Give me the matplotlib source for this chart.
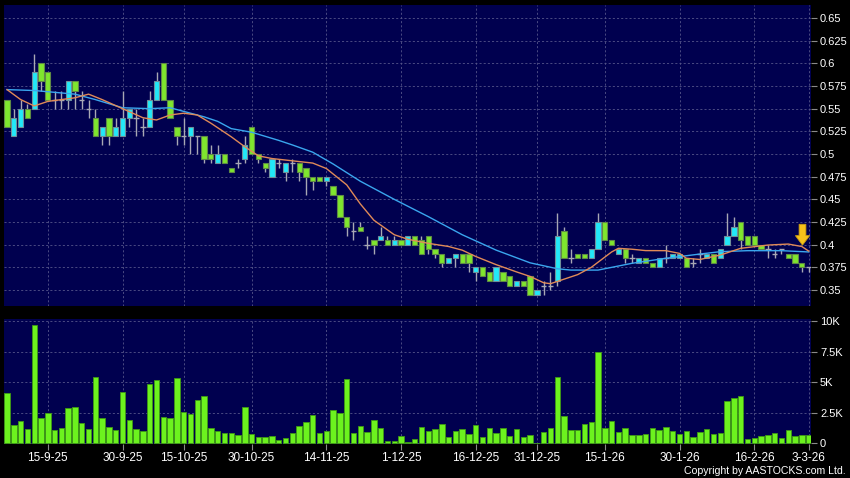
import matplotlib
matplotlib.use('Agg')
import matplotlib.pyplot as plt
import numpy as np

# ---------------- data ----------------
open_ = [0.56, 0.52, 0.53, 0.55, 0.55, 0.60, 0.59, 0.56, 0.56, 0.56,
         0.58, 0.56, 0.55, 0.54, 0.52, 0.54, 0.52, 0.52, 0.54, 0.54,
         0.53, 0.53, 0.56, 0.60, 0.56, 0.53, 0.52, 0.52, 0.52, 0.52,
         0.50, 0.49, 0.50, 0.485, 0.49, 0.495, 0.53, 0.50, 0.49, 0.475,
         0.49, 0.48, 0.49, 0.49, 0.485, 0.475, 0.475, 0.47, 0.465, 0.455,
         0.43, 0.415, 0.42, 0.40, 0.405, 0.405, 0.405, 0.40, 0.405, 0.40,
         0.41, 0.405, 0.41, 0.395, 0.39, 0.38, 0.385, 0.39, 0.39, 0.37,
         0.375, 0.37, 0.36, 0.37, 0.365, 0.355, 0.36, 0.365, 0.345, 0.355,
         0.355, 0.36, 0.415, 0.385, 0.39, 0.39, 0.385, 0.395, 0.425, 0.405,
         0.39, 0.395, 0.385, 0.38, 0.385, 0.38, 0.375, 0.385, 0.385, 0.385,
         0.385, 0.38, 0.39, 0.385, 0.39, 0.385, 0.40, 0.41, 0.425, 0.41,
         0.41, 0.40, 0.395, 0.39, 0.395, 0.39, 0.39, 0.38, 0.375]
high = [0.56, 0.55, 0.56, 0.555, 0.61, 0.60, 0.59, 0.57, 0.57, 0.58,
        0.58, 0.57, 0.56, 0.55, 0.53, 0.54, 0.54, 0.57, 0.55, 0.55,
        0.54, 0.57, 0.59, 0.60, 0.56, 0.53, 0.54, 0.53, 0.52, 0.52,
        0.51, 0.51, 0.50, 0.485, 0.495, 0.52, 0.53, 0.50, 0.49, 0.495,
        0.495, 0.49, 0.495, 0.49, 0.485, 0.475, 0.475, 0.475, 0.465, 0.455,
        0.43, 0.425, 0.425, 0.41, 0.405, 0.42, 0.41, 0.41, 0.405, 0.41,
        0.41, 0.41, 0.41, 0.395, 0.39, 0.385, 0.39, 0.39, 0.39, 0.375,
        0.375, 0.37, 0.375, 0.37, 0.365, 0.36, 0.36, 0.365, 0.35, 0.36,
        0.37, 0.435, 0.42, 0.395, 0.39, 0.39, 0.395, 0.435, 0.425, 0.405,
        0.395, 0.395, 0.39, 0.385, 0.385, 0.38, 0.385, 0.40, 0.39, 0.39,
        0.385, 0.385, 0.395, 0.39, 0.39, 0.395, 0.435, 0.43, 0.425, 0.41,
        0.41, 0.40, 0.40, 0.395, 0.395, 0.39, 0.39, 0.38, 0.375]
low = [0.53, 0.52, 0.53, 0.54, 0.55, 0.57, 0.56, 0.55, 0.55, 0.55,
       0.55, 0.55, 0.54, 0.52, 0.51, 0.51, 0.52, 0.52, 0.53, 0.52,
       0.52, 0.53, 0.56, 0.56, 0.54, 0.51, 0.51, 0.50, 0.50, 0.49,
       0.49, 0.49, 0.49, 0.48, 0.485, 0.49, 0.50, 0.49, 0.48, 0.475,
       0.485, 0.47, 0.48, 0.47, 0.455, 0.46, 0.47, 0.465, 0.455, 0.43,
       0.41, 0.405, 0.415, 0.395, 0.39, 0.405, 0.40, 0.40, 0.40, 0.40,
       0.40, 0.39, 0.39, 0.385, 0.375, 0.38, 0.375, 0.38, 0.37, 0.36,
       0.365, 0.36, 0.36, 0.36, 0.355, 0.355, 0.355, 0.345, 0.345, 0.345,
       0.35, 0.355, 0.385, 0.38, 0.385, 0.385, 0.385, 0.395, 0.405, 0.40,
       0.39, 0.38, 0.38, 0.38, 0.38, 0.375, 0.375, 0.38, 0.385, 0.385,
       0.375, 0.375, 0.38, 0.385, 0.38, 0.385, 0.40, 0.41, 0.395, 0.40,
       0.40, 0.395, 0.385, 0.385, 0.39, 0.385, 0.38, 0.37, 0.37]
close = [0.53, 0.54, 0.55, 0.54, 0.59, 0.58, 0.56, 0.56, 0.56, 0.58,
         0.57, 0.56, 0.55, 0.52, 0.53, 0.52, 0.53, 0.54, 0.55, 0.54,
         0.53, 0.56, 0.58, 0.56, 0.54, 0.52, 0.52, 0.53, 0.52, 0.495,
         0.495, 0.50, 0.49, 0.48, 0.49, 0.51, 0.50, 0.495, 0.485, 0.495,
         0.49, 0.49, 0.49, 0.48, 0.475, 0.47, 0.47, 0.475, 0.455, 0.43,
         0.42, 0.415, 0.415, 0.40, 0.40, 0.41, 0.40, 0.405, 0.40, 0.41,
         0.40, 0.39, 0.395, 0.39, 0.38, 0.385, 0.39, 0.38, 0.38, 0.375,
         0.365, 0.36, 0.375, 0.36, 0.355, 0.36, 0.355, 0.345, 0.35, 0.355,
         0.355, 0.41, 0.385, 0.385, 0.385, 0.385, 0.395, 0.425, 0.405, 0.40,
         0.395, 0.385, 0.385, 0.385, 0.38, 0.375, 0.385, 0.385, 0.39, 0.39,
         0.375, 0.38, 0.39, 0.39, 0.38, 0.395, 0.41, 0.42, 0.405, 0.40,
         0.40, 0.395, 0.395, 0.39, 0.395, 0.385, 0.38, 0.375, 0.375]
volume_k = [4.14, 1.47, 1.80, 1.14, 9.65, 2.10, 2.51, 1.06, 1.25, 2.92,
            2.97, 1.63, 1.17, 5.40, 2.10, 1.31, 1.06, 4.17, 1.88, 1.14,
            1.04, 4.85, 5.18, 2.18, 2.10, 5.37, 2.59, 2.40, 3.54, 3.87,
            1.25, 0.98, 0.82, 0.82, 0.68, 3.00, 0.79, 0.52, 0.54, 0.57,
            0.27, 0.44, 0.82, 1.42, 1.74, 2.32, 0.84, 1.01, 2.72, 2.45,
            5.26, 0.82, 1.42, 0.93, 1.88, 1.28, 0.19, 0.19, 0.63, 0.11,
            0.35, 1.36, 1.04, 1.17, 1.58, 0.52, 0.98, 1.17, 0.74, 1.50,
            0.54, 1.23, 0.87, 1.23, 0.63, 1.14, 0.54, 0.68, 0.05, 0.93,
            1.28, 5.40, 2.23, 1.09, 1.09, 1.55, 1.77, 7.49, 1.25, 1.85,
            0.93, 1.28, 0.65, 0.71, 0.76, 1.23, 1.09, 1.36, 1.01, 0.76,
            0.98, 0.49, 0.93, 1.17, 0.74, 0.84, 3.46, 3.73, 3.87, 0.33,
            0.41, 0.63, 0.68, 0.82, 0.41, 1.06, 0.57, 0.68, 0.68]

ma_short_idx = [0, 2, 4, 6, 8, 10, 12, 14, 17, 20, 22, 24, 26, 28, 30, 33, 35,
                37, 39, 42, 45, 47, 50, 52, 54, 57, 59, 62, 65, 67, 69, 72, 75,
                77, 79, 80, 82, 84, 86, 89, 90, 92, 94, 97, 99, 100, 102, 105,
                108, 112, 115, 117, 118]
ma_short_val = [0.571, 0.560, 0.553, 0.558, 0.560, 0.562, 0.566, 0.560, 0.550,
                0.540, 0.5375, 0.543, 0.545, 0.543, 0.534, 0.519, 0.508, 0.498,
                0.495, 0.4925, 0.490, 0.484, 0.466, 0.445, 0.427, 0.411, 0.406,
                0.4015, 0.398, 0.394, 0.387, 0.378, 0.370, 0.365, 0.358, 0.357,
                0.362, 0.367, 0.375, 0.392, 0.396, 0.395, 0.3935, 0.3934, 0.3904,
                0.385, 0.3837, 0.3886, 0.396, 0.3996, 0.4007, 0.398, 0.393]
ma_long_idx = [0, 4, 7, 10, 13, 17, 21, 24, 26, 29, 31, 33, 36, 40, 42, 45, 48,
               52, 57, 62, 67, 72, 77, 81, 83, 87, 92, 97, 102, 105, 109, 114, 118]
ma_long_val = [0.571, 0.570, 0.568, 0.566, 0.560, 0.551, 0.550, 0.551, 0.547,
               0.541, 0.536, 0.528, 0.524, 0.515, 0.510, 0.502, 0.489, 0.470,
               0.450, 0.431, 0.411, 0.394, 0.380, 0.3735, 0.372, 0.372, 0.3795,
               0.385, 0.3897, 0.3923, 0.3934, 0.3934, 0.392]

tick_idx = [6, 17, 26, 36, 47, 58, 69, 78, 88, 99, 110, 118]
tick_labels = ['15-9-25', '30-9-25', '15-10-25', '30-10-25', '14-11-25', '1-12-25',
               '16-12-25', '31-12-25', '15-1-26', '30-1-26', '16-2-26', '3-3-26']
price_ticks = [0.35, 0.375, 0.40, 0.425, 0.45, 0.475, 0.50, 0.525, 0.55, 0.575,
               0.60, 0.625, 0.65]
price_tick_labels = ['0.35', '0.375', '0.4', '0.425', '0.45', '0.475', '0.5',
                     '0.525', '0.55', '0.575', '0.6', '0.625', '0.65']
vol_ticks = [0, 2.5, 5, 7.5, 10]
vol_tick_labels = ['0', '2.5K', '5K', '7.5K', '10K']
arrow_idx = 117.1
arrow_top = 0.4225
arrow_tip = 0.3995

# ---------------- style ----------------
BG = '#00004f'
GRID = '#55558a'
UP = '#22e8f8'
DOWN = '#7fe62e'
WICK = '#a8a8b4'
VOL = '#6cf21e'
FONT = 'Liberation Sans'

W, H = 850, 478
fig = plt.figure(figsize=(W / 100, H / 100), dpi=100, facecolor='black')


def px_axes(x0, y0, x1, y1):
    return fig.add_axes([x0 / W, 1 - y1 / H, (x1 - x0) / W, (y1 - y0) / H])


ax = px_axes(4, 5, 811, 306)
axv = px_axes(4, 319, 811, 444)

n = len(close)
idx = np.arange(n)
o = np.array(open_)
c = np.array(close)
hi = np.array(high)
lo = np.array(low)

for a in (ax, axv):
    a.set_facecolor(BG)
    for s in a.spines.values():
        s.set_visible(False)
    a.set_xlim(-0.45, 118.35)
    a.grid(True, color=GRID, linestyle=(0, (2.5, 2.5)), linewidth=0.6)
    a.set_axisbelow(True)
    a.yaxis.tick_right()
    a.tick_params(axis='y', colors='#8a8a8a', labelcolor='white', length=4,
                  width=0.8, pad=2.5, labelsize=8)
    a.set_xticks(tick_idx)

# ---- price panel ----
ax.set_ylim(0.3324, 0.6643)
ax.set_yticks(price_ticks)
ax.set_yticklabels(price_tick_labels, fontfamily=FONT)
ax.tick_params(axis='x', length=0, labelbottom=False)

ax.vlines(idx, lo, hi, color=WICK, linewidth=1.0, zorder=2)
up = c > o
dn = c < o
eq = c == o
bw = 0.78
ax.bar(idx[up], (c - o)[up], bottom=o[up], width=bw, color=UP,
       edgecolor='#6f8f9a', linewidth=0.8, zorder=3)
ax.bar(idx[dn], (o - c)[dn], bottom=c[dn], width=bw, color=DOWN,
       edgecolor='#5f8a46', linewidth=0.8, zorder=3)
ax.hlines(c[eq], idx[eq] - bw / 2, idx[eq] + bw / 2, color=WICK, linewidth=1.0,
          zorder=3)

ax.plot(ma_long_idx, ma_long_val, color='#3aa6ee', linewidth=1.0, zorder=4)
ax.plot(ma_short_idx, ma_short_val, color='#e08a58', linewidth=1.0, zorder=5)

ax.arrow(arrow_idx, arrow_top, 0, arrow_tip - arrow_top, width=1.0,
         head_width=2.1, head_length=0.0105, length_includes_head=True,
         facecolor='#f6c21a', edgecolor='#c89a10', linewidth=0.6, zorder=6)

# ---- volume panel ----
axv.set_ylim(-0.05, 10.16)
axv.set_yticks(vol_ticks)
axv.set_yticklabels(vol_tick_labels, fontfamily=FONT)
axv.bar(idx, volume_k, width=0.8, color=VOL, edgecolor='#3f9a14',
        linewidth=0.6, zorder=3)
axv.set_xticklabels(tick_labels, fontfamily=FONT, fontsize=8.5, color='white')
axv.tick_params(axis='x', colors='#8a8a8a', labelcolor='white', length=4,
                width=0.8, pad=2)

fig.text(846 / W, 1 - 471.5 / H, 'Copyright by AASTOCKS.com Ltd.', color='white',
         fontsize=7.6, fontfamily=FONT, ha='right', va='center')

fig.savefig('out.png', dpi=100, facecolor='black')
